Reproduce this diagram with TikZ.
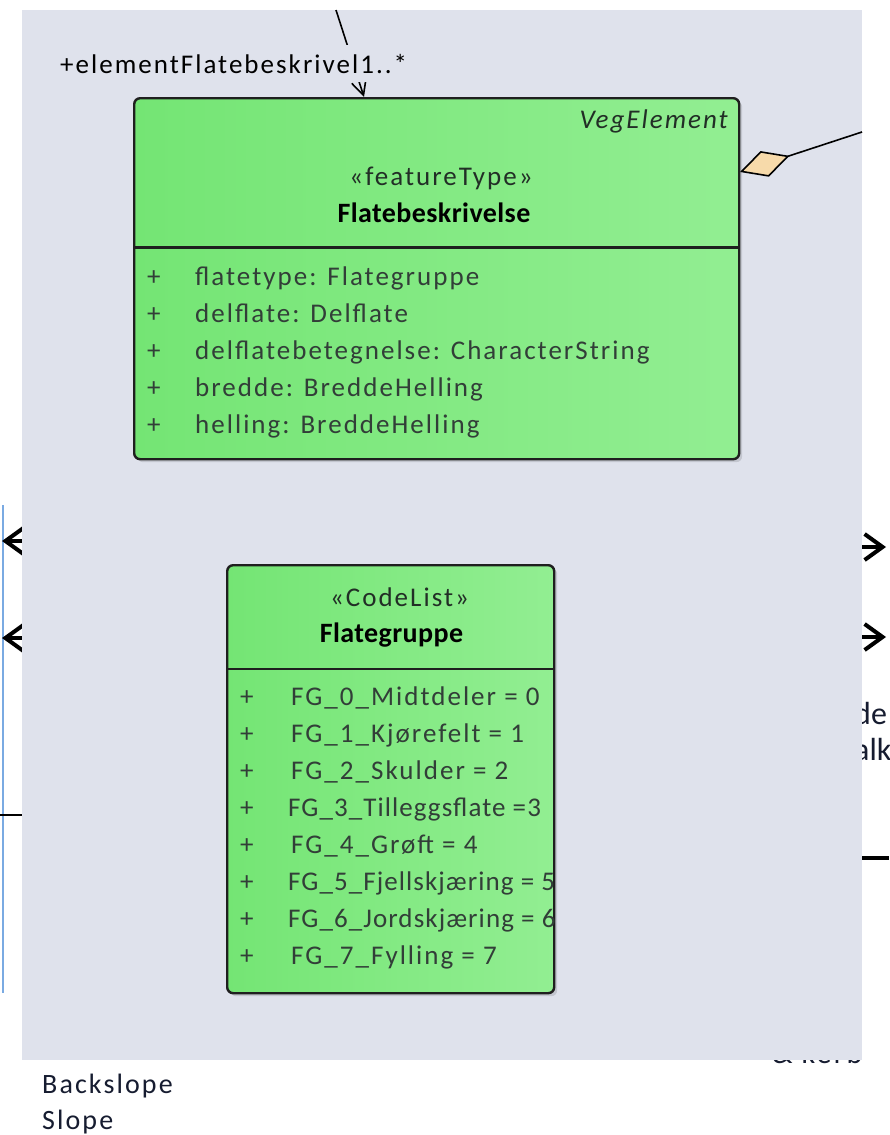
\documentclass[tikz,border=0pt]{standalone}
\usepackage{fontspec}
\setmainfont{Carlito}
\newfontfamily\eafont{Carlito}[LetterSpace=7.5]
\newfontfamily\eacondfont{Carlito}[LetterSpace=4]
\newfontfamily\eaheadfont{Carlito}[LetterSpace=1.5]
\usetikzlibrary{positioning,arrows.meta,shadows}
\definecolor{panelgrey}{RGB}{223,226,236}
\definecolor{classgreenL}{RGB}{116,229,116}
\definecolor{classgreenR}{RGB}{146,238,146}
\definecolor{attrtext}{RGB}{50,62,56}
\definecolor{stereotext}{RGB}{34,46,38}
\definecolor{diamondfill}{RGB}{247,218,170}
\definecolor{connblue}{RGB}{122,170,226}
\definecolor{outtext}{RGB}{22,28,48}
\pgfmathsetmacro{\attrstep}{37.2}
\pgfmathsetmacro{\codestep}{37}

\tikzset{
  classbox/.style={draw=black!88, line width=2.4pt, rounded corners=6pt,
    left color=classgreenL, right color=classgreenR, anchor=north west, inner sep=0pt,
    drop shadow={shadow xshift=3pt, shadow yshift=-3pt, opacity=0.12, fill=black}},
  compartment/.style={draw=black!88, line width=2.2pt},
  stereotype/.style={anchor=base, inner sep=0pt, text=stereotext, font=\eafont\fontsize{27}{32}\selectfont},
  classname/.style={anchor=base, inner sep=0pt, font=\eaheadfont\bfseries\fontsize{28}{32}\selectfont},
  member/.style={anchor=base west, inner sep=0pt, text=attrtext, font=\eafont\fontsize{27}{32}\selectfont},
  tightmember/.style={member, font=\eacondfont\fontsize{27}{32}\selectfont},
  rolelabel/.style={anchor=base west, fill=panelgrey, inner xsep=2pt, inner ysep=9pt,
    font=\eafont\fontsize{27}{32}\selectfont},
  outsidetext/.style={anchor=base west, inner sep=0pt, text=outtext, font=\eafont\fontsize{28}{34}\selectfont},
  assoc/.style={line width=1.6pt, -{Straight Barb[length=15pt,width=15pt]}},
  aggregation/.style={line width=1.6pt, {Diamond[length=52pt,width=27pt,fill=diamondfill]}-},
  heavyarrow/.style={line width=4pt, -{Straight Barb[length=18pt,width=26pt]}},
}

\begin{document}
\begin{tikzpicture}[x=1pt, y=-1pt]
    \fill[white] (0,0) rectangle (889,1135);
    \useasboundingbox (0,0) rectangle (889,1135);
    % outside the diagram frame (mostly hidden by the frame)
    \coordinate (left_bar_top) at (2.5,505);
    \coordinate (left_bar_bot) at (2.5,993);
    \draw[connblue, line width=2pt] (left_bar_top) -- (left_bar_bot);
    \coordinate (left_from1) at (40,541);
    \coordinate (left_tip1) at (2,541);
    \coordinate (left_from2) at (40,638);
    \coordinate (left_tip2) at (2,638);
    \draw[heavyarrow] (left_from1) -- (left_tip1);
    \draw[heavyarrow] (left_from2) -- (left_tip2);
    \coordinate (left_line_a) at (0,815);
    \coordinate (left_line_b) at (40,815);
    \draw[line width=1.6pt] (left_line_a) -- (left_line_b);
    \coordinate (right_from1) at (840,547);
    \coordinate (right_tip1) at (886,547);
    \coordinate (right_from2) at (840,637);
    \coordinate (right_tip2) at (886,637);
    \draw[heavyarrow] (right_from1) -- (right_tip1);
    \draw[heavyarrow] (right_from2) -- (right_tip2);
    \coordinate (right_line_a) at (840,858);
    \coordinate (right_line_b) at (889,858);
    \draw[line width=4pt] (right_line_a) -- (right_line_b);
    \node[outsidetext, font=\fontsize{32}{36}\selectfont] (right_de) at (854,724) {de};
    \node[outsidetext, font=\fontsize{32}{36}\selectfont] (right_alk) at (854,760) {alk};
    \node[outsidetext, font=\eafont\fontsize{30}{36}\selectfont] (kerb) at (772,1063) {\& kerb};
    \node[outsidetext] (backslope) at (42,1093) {Backslope};
    \node[outsidetext] (slope) at (42,1129) {Slope};
    % diagram frame
    \fill[panelgrey] (22,10) rectangle (862,1060);
    % connectors
    \coordinate (assoc_from) at (336,10);
    \coordinate (assoc_to) at (364,97);
    \draw[assoc] (assoc_from) -- (assoc_to);
    \coordinate (aggr_whole) at (740,172);
    \coordinate (aggr_part) at (862,132);
    \draw[aggregation] (aggr_whole) -- (aggr_part);
    \node[rolelabel] (fb_role) at (58,73) {+elementFlatebeskrivel1..*};
    % class Flatebeskrivelse
    \node[classbox, minimum width=605pt, minimum height=361pt] (fb_box) at (133,97) {};
    \coordinate (fb_div) at (0,247.5);
    \draw[compartment] (fb_box.west |- fb_div) -- (fb_box.east |- fb_div);
    \node[member, anchor=base east, font=\eafont\itshape\fontsize{27}{32}\selectfont, text=stereotext] (fb_parent) at (728,128) {VegElement};
    \node[stereotype] (fb_stereo) at (441,185) {«featureType»};
    \node[classname] (fb_name) at (434,222.5) {Flatebeskrivelse};
    \node[member] (fb_plus1) at (147,285) {+};
    \node[member] (fb_plus2) at (147,{285+\attrstep}) {+};
    \node[member] (fb_plus3) at (147,{285+2*\attrstep}) {+};
    \node[member] (fb_plus4) at (147,{285+3*\attrstep}) {+};
    \node[member] (fb_plus5) at (147,{285+4*\attrstep}) {+};
    \node[member] (fb_attr1) at (195,285) {flatetype: Flategruppe};
    \node[member] (fb_attr2) at (195,{285+\attrstep}) {delflate: Delflate};
    \node[member] (fb_attr3) at (195,{285+2*\attrstep}) {delflatebetegnelse: CharacterString};
    \node[member] (fb_attr4) at (195,{285+3*\attrstep}) {bredde: BreddeHelling};
    \node[member] (fb_attr5) at (195,{285+4*\attrstep}) {helling: BreddeHelling};
    % codelist Flategruppe
    \node[classbox, minimum width=327pt, minimum height=428pt] (fg_box) at (226,564) {};
    \coordinate (fg_div) at (0,669);
    \draw[compartment] (fg_box.west |- fg_div) -- (fg_box.east |- fg_div);
    \node[stereotype] (fg_stereo) at (399.5,606) {«CodeList»};
    \node[classname] (fg_name) at (391.5,642) {Flategruppe};
    \node[member] (fg_plus0) at (240,705.5) {+};
    \node[member] (fg_plus1) at (240,{705.5+\codestep}) {+};
    \node[member] (fg_plus2) at (240,{705.5+2*\codestep}) {+};
    \node[member] (fg_plus3) at (240,{705.5+3*\codestep}) {+};
    \node[member] (fg_plus4) at (240,{705.5+4*\codestep}) {+};
    \node[member] (fg_plus5) at (240,{705.5+5*\codestep}) {+};
    \node[member] (fg_plus6) at (240,{705.5+6*\codestep}) {+};
    \node[member] (fg_plus7) at (240,{705.5+7*\codestep}) {+};
    \node[member] (fg_code0) at (291,705.5) {FG\_0\_Midtdeler = 0};
    \node[member] (fg_code1) at (291,{705.5+\codestep}) {FG\_1\_Kjørefelt = 1};
    \node[member] (fg_code2) at (291,{705.5+2*\codestep}) {FG\_2\_Skulder = 2};
    \node[tightmember] (fg_code3) at (288,{705.5+3*\codestep}) {FG\_3\_Tilleggsflate =3};
    \node[member] (fg_code4) at (291,{705.5+4*\codestep}) {FG\_4\_Grøft = 4};
    \node[tightmember] (fg_code5) at (288,{705.5+5*\codestep}) {FG\_5\_Fjellskjæring = 5};
    \node[tightmember] (fg_code6) at (288,{705.5+6*\codestep}) {FG\_6\_Jordskjæring = 6};
    \node[member] (fg_code7) at (291,{705.5+7*\codestep}) {FG\_7\_Fylling = 7};
\end{tikzpicture}
\end{document}
